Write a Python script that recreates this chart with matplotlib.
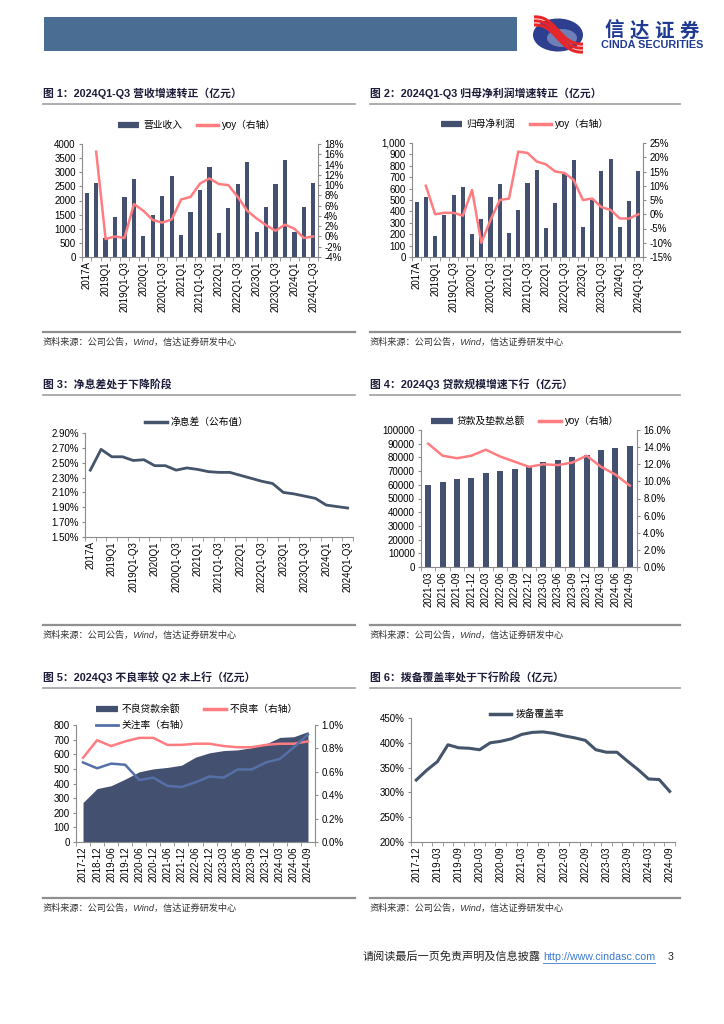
import numpy as np
import matplotlib
matplotlib.use("Agg")
from matplotlib import pyplot as plt
from matplotlib.lines import Line2D
from matplotlib.patches import Rectangle, Ellipse, PathPatch
from matplotlib.path import Path

plt.rcParams['font.family'] = ['Liberation Sans', 'Noto Sans CJK SC', 'DejaVu Sans']
plt.rcParams['axes.unicode_minus'] = False

# ---------------- data ----------------
periods = ['2017A', '2018A', '2019Q1', '2019H1', '2019Q1-Q3', '2019A',
           '2020Q1', '2020H1', '2020Q1-Q3', '2020A', '2021Q1', '2021H1',
           '2021Q1-Q3', '2021A', '2022Q1', '2022H1', '2022Q1-Q3', '2022A',
           '2023Q1', '2023H1', '2023Q1-Q3', '2023A', '2024Q1', '2024H1',
           '2024Q1-Q3']

revenue = [2259, 2612, 680, 1424, 2118, 2765, 730, 1470, 2165, 2870, 788, 1588,
           2388, 3200, 859, 1741, 2576, 3353, 894, 1776, 2600, 3435, 894, 1776, 2612]
revenue_yoy = [np.nan, 16.5, -0.5, 0.0, -0.3, 6.3, 5.0, 3.2, 2.7, 3.3, 7.2, 7.7,
               10.3, 11.3, 10.2, 10.0, 7.7, 5.0, 3.5, 2.2, 1.1, 2.3, 1.5, -0.3, 0.0]

profit = [480, 526, 187, 371, 544, 611, 205, 336, 529, 643, 213, 412,
          646, 766, 251, 474, 730, 854, 266, 503, 757, 862, 260, 488, 757]
profit_yoy = [np.nan, 10.0, 0.0, 0.5, 0.5, -0.5, 8.5, -10.0, -2.0, 5.0, 5.5, 22.0,
              21.5, 18.5, 17.5, 15.0, 14.5, 12.0, 5.0, 5.5, 2.5, 1.5, -1.5, -1.5, 0.0]

nim = [2.40, 2.68, 2.58, 2.58, 2.53, 2.54, 2.46, 2.46, 2.40, 2.43, 2.41, 2.38,
       2.37, 2.37, 2.33, 2.29, 2.25, 2.22, 2.10, 2.08, 2.05, 2.02, 1.93, 1.91, 1.89]

loan_dates = ['2021-03', '2021-06', '2021-09', '2021-12', '2022-03', '2022-06',
              '2022-09', '2022-12', '2023-03', '2023-06', '2023-09', '2023-12',
              '2024-03', '2024-06', '2024-09']
loans = [60200, 62400, 64300, 65000, 68400, 70400, 71800, 73300, 76700, 78400,
         80600, 81500, 85400, 86900, 88100]
loans_yoy = [14.4, 13.0, 12.7, 13.0, 13.7, 12.9, 12.3, 11.7, 12.0, 11.9, 12.2,
             13.0, 11.7, 10.8, 9.5]

npl_dates = ['2017-12', '2018-12', '2019-06', '2019-12', '2020-06', '2020-12',
             '2021-06', '2021-12', '2022-06', '2022-12', '2023-03', '2023-06',
             '2023-09', '2023-12', '2024-03', '2024-06', '2024-09']
npl_balance = [270, 365, 385, 430, 480, 500, 510, 525, 580, 610, 625, 630,
               645, 670, 715, 720, 755]
npl_ratio = [0.72, 0.87, 0.82, 0.86, 0.89, 0.89, 0.83, 0.83, 0.84, 0.84, 0.82,
             0.81, 0.81, 0.83, 0.84, 0.84, 0.86]
special_ratio = [0.68, 0.63, 0.67, 0.66, 0.53, 0.55, 0.48, 0.47, 0.51, 0.56, 0.55,
                 0.62, 0.62, 0.68, 0.71, 0.81, 0.92]

cov_dates = ['2017-12', '2018-12', '2019-03', '2019-06', '2019-09', '2019-12',
             '2020-03', '2020-06', '2020-09', '2020-12', '2021-03', '2021-06',
             '2021-09', '2021-12', '2022-03', '2022-06', '2022-09', '2022-12',
             '2023-03', '2023-06', '2023-09', '2023-12', '2024-03', '2024-06',
             '2024-09']
coverage = [325, 345, 362, 396, 390, 389, 386, 400, 403, 408, 417, 421, 422, 419,
            414, 410, 405, 386, 381, 381, 363, 346, 327, 326, 302]

titles = ['图 1：2024Q1-Q3 营收增速转正（亿元）',
          '图 2：2024Q1-Q3 归母净利润增速转正（亿元）',
          '图 3：净息差处于下降阶段',
          '图 4：2024Q3 贷款规模增速下行（亿元）',
          '图 5：2024Q3 不良率较 Q2 末上行（亿元）',
          '图 6：拨备覆盖率处于下行阶段（亿元）']
source = '资料来源：公司公告，Wind，信达证券研发中心'

# ---------------- style ----------------
W, H = 724, 1024
BAR = '#44506F'
RED = '#FF7C80'
NAVY = '#44546A'
BLUE = '#5570A8'
AX = '#8C8C8C'
FS = 7.0

fig = plt.figure(figsize=(W / 100, H / 100), dpi=100)
bg = fig.add_axes([0, 0, 1, 1])
bg.set_xlim(0, W)
bg.set_ylim(H, 0)
bg.axis('off')


def px_axes(l, t, r, b):
    return fig.add_axes([l / W, 1 - b / H, (r - l) / W, (b - t) / H])


def style(ax, right=None):
    for s in ['top', 'right']:
        ax.spines[s].set_visible(False)
    for s in ['left', 'bottom']:
        ax.spines[s].set_color(AX)
        ax.spines[s].set_linewidth(0.8)
    ax.tick_params(axis='y', labelsize=FS, length=2.5, color=AX, pad=2)
    if right is not None:
        right.spines['right'].set_color(AX)
        right.spines['right'].set_linewidth(0.8)
        for s in ['top', 'left', 'bottom']:
            right.spines[s].set_visible(False)
        right.tick_params(axis='y', labelsize=FS, length=2.5, color=AX, pad=2)


def cat_x(ax, labels, step=1):
    n = len(labels)
    ax.set_xlim(-0.5, n - 0.5)
    ax.set_xticks(range(n))
    ax.set_xticklabels([lab if i % step == 0 else '' for i, lab in enumerate(labels)],
                       rotation=90, fontsize=FS)
    ax.tick_params(axis='x', which='major', length=0, pad=3)
    ax.set_xticks(np.arange(-0.5, n, 1), minor=True)
    ax.tick_params(axis='x', which='minor', length=3, color=AX)


def fig_legend(ax, handles, labels, cx, cy, ncol=2):
    leg = ax.legend(handles, labels, loc='center', bbox_to_anchor=(cx / W, 1 - cy / H),
                    bbox_transform=fig.transFigure, ncol=ncol, frameon=False,
                    fontsize=FS, handlelength=2.2, handletextpad=0.4,
                    columnspacing=1.5, labelspacing=0.6, borderaxespad=0)
    return leg


bar_h = Line2D([], [], color=BAR, lw=4.5, solid_capstyle='butt')
red_h = Line2D([], [], color=RED, lw=2.5)

# ---------------- page decoration ----------------
bg.add_patch(Rectangle((44, 17), 473, 34, color='#4A6D94', lw=0))
bg.add_patch(Ellipse((558, 35), 50, 33, color='#2E3F8F', lw=0))
bg.add_patch(Ellipse((562, 38), 30, 18, color='#6F7FB8', lw=0))
for off in (-4, 0, 4):
    verts = [(534, 21 + off), (556, 19 + off), (560, 50 + off), (583, 48 + off)]
    p = Path(verts, [Path.MOVETO, Path.CURVE4, Path.CURVE4, Path.CURVE4])
    bg.add_patch(PathPatch(p, fc='none', ec='#E8262A', lw=2.2))
for i, ch in enumerate('信达证券'):
    bg.text(614 + i * 25, 31, ch, fontsize=14, fontweight='bold', color='#1F3A93',
            ha='center', va='center', family=['Noto Sans CJK SC'])
bg.text(652, 45, 'CINDA SECURITIES', fontsize=7.8, fontweight='bold', color='#1F3A93',
        ha='center', va='center')

panels = [(43, 355, 93, 332), (370, 680, 93, 332),
          (43, 355, 384, 625), (370, 680, 384, 625),
          (43, 355, 677, 898), (370, 680, 677, 898)]
for (x0, x1, ty, sy), t in zip(panels, titles):
    bg.text(x0, ty, t, fontsize=7.8, fontweight='bold', color='#1C1C3A', va='center')
    bg.plot([x0, x1], [ty + 11, ty + 11], color='#A0A0A0', lw=1.2)
    bg.plot([x0, x1], [sy, sy], color='#909090', lw=1.6)
    bg.text(x0, sy + 10, source, fontsize=6.6, color='#333333', va='center',
            style='italic')

bg.text(363, 957, '请阅读最后一页免责声明及信息披露', fontsize=8, color='#222222',
        va='center')
bg.text(543, 957, 'http://www.cindasc.com', fontsize=7.7, color='#3A7BD5', va='center')
bg.plot([543, 655], [963, 963], color='#3A7BD5', lw=0.6)
bg.text(668, 957, '3', fontsize=7.7, color='#222222', va='center')

x25 = np.arange(len(periods))

# ---------------- chart 1 ----------------
ax1 = px_axes(82, 144, 318, 257)
ax1r = ax1.twinx()
ax1.bar(x25, revenue, width=0.45, color=BAR)
ax1r.plot(x25, revenue_yoy, color=RED, lw=1.8, solid_joinstyle='round')
ax1.set_ylim(0, 4000)
ax1.set_yticks(range(0, 4001, 500))
ax1r.set_ylim(-4, 18)
ax1r.set_yticks(range(-4, 19, 2))
ax1r.set_yticklabels([f'{v}%' for v in range(-4, 19, 2)])
style(ax1, ax1r)
cat_x(ax1, periods, 2)
fig_legend(ax1, [bar_h, red_h], ['营业收入', 'yoy（右轴）'], 197, 125)

# ---------------- chart 2 ----------------
ax2 = px_axes(412, 143, 643, 257)
ax2r = ax2.twinx()
ax2.bar(x25, profit, width=0.45, color=BAR)
ax2r.plot(x25, profit_yoy, color=RED, lw=1.8, solid_joinstyle='round')
ax2.set_ylim(0, 1000)
ax2.set_yticks(range(0, 1001, 100))
ax2.set_yticklabels([f'{v:,}' for v in range(0, 1001, 100)])
ax2r.set_ylim(-15, 25)
ax2r.set_yticks(range(-15, 26, 5))
ax2r.set_yticklabels([f'{v}%' for v in range(-15, 26, 5)])
style(ax2, ax2r)
cat_x(ax2, periods, 2)
fig_legend(ax2, [bar_h, red_h], ['归母净利润', 'yoy（右轴）'], 525, 124)

# ---------------- chart 3 ----------------
ax3 = px_axes(85, 433, 353, 537)
ax3.plot(x25, nim, color=NAVY, lw=2.0, solid_joinstyle='round')
ax3.set_ylim(1.5, 2.9)
yt = np.arange(1.5, 2.91, 0.2)
ax3.set_yticks(yt)
ax3.set_yticklabels([f'{v:.2f}%' for v in yt])
style(ax3)
cat_x(ax3, periods, 2)
fig_legend(ax3, [Line2D([], [], color=NAVY, lw=2.5)], ['净息差（公布值）'], 197, 422, 1)

# ---------------- chart 4 ----------------
x15 = np.arange(len(loan_dates))
ax4 = px_axes(421, 430, 637, 567)
ax4r = ax4.twinx()
ax4.bar(x15, loans, width=0.42, color=BAR)
ax4r.plot(x15, loans_yoy, color=RED, lw=1.8, solid_joinstyle='round')
ax4.set_ylim(0, 100000)
ax4.set_yticks(range(0, 100001, 10000))
ax4r.set_ylim(0, 16)
ax4r.set_yticks(range(0, 17, 2))
ax4r.set_yticklabels([f'{v:.1f}%' for v in range(0, 17, 2)])
style(ax4, ax4r)
cat_x(ax4, loan_dates, 1)
fig_legend(ax4, [bar_h, red_h], ['贷款及垫款总额', 'yoy（右轴）'], 525, 421)

# ---------------- chart 5 ----------------
x17 = np.arange(len(npl_dates))
ax5 = px_axes(76, 725, 315, 842)
ax5r = ax5.twinx()
ax5.fill_between(x17, npl_balance, 0, color=BAR, lw=0)
ax5r.plot(x17, npl_ratio, color=RED, lw=1.8, solid_joinstyle='round')
ax5r.plot(x17, special_ratio, color=BLUE, lw=1.8, solid_joinstyle='round')
ax5.set_ylim(0, 800)
ax5.set_yticks(range(0, 801, 100))
ax5r.set_ylim(0, 1.0)
yt5 = np.arange(0, 1.01, 0.2)
ax5r.set_yticks(yt5)
ax5r.set_yticklabels([f'{v:.1f}%' for v in yt5])
style(ax5, ax5r)
cat_x(ax5, npl_dates, 1)
area_h = Line2D([], [], color=BAR, lw=4.5, solid_capstyle='butt')
blue_h = Line2D([], [], color=BLUE, lw=2.0)
fig_legend(ax5, [area_h, blue_h, red_h], ['不良贷款余额', '关注率（右轴）', '不良率（右轴）'],
           197, 717)

# ---------------- chart 6 ----------------
x6 = np.arange(len(cov_dates))
ax6 = px_axes(411, 718, 675, 842)
ax6.plot(x6, coverage, color=NAVY, lw=2.2, solid_joinstyle='round')
ax6.set_ylim(200, 450)
ax6.set_yticks(range(200, 451, 50))
ax6.set_yticklabels([f'{v}%' for v in range(200, 451, 50)])
style(ax6)
cat_x(ax6, cov_dates, 2)
fig_legend(ax6, [Line2D([], [], color=NAVY, lw=2.5)], ['拨备覆盖率'], 527, 714, 1)

fig.savefig('out.png', dpi=100)
